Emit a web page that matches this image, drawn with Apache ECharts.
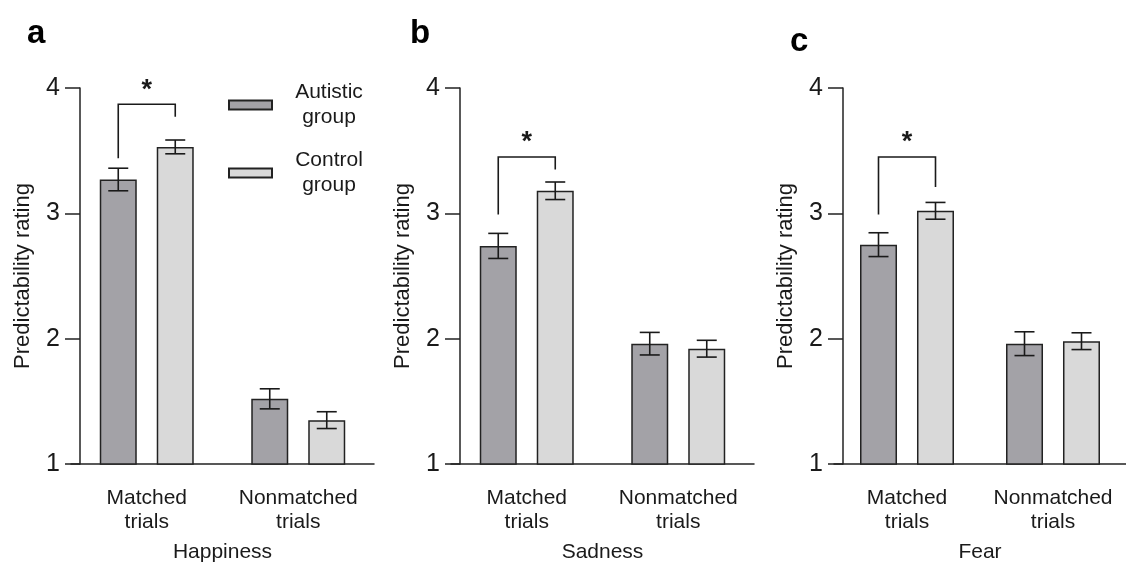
<!DOCTYPE html>
<html>
<head>
<meta charset="utf-8">
<script src="https://cdn.jsdelivr.net/npm/echarts@6/dist/echarts.min.js"></script>
<style>html,body{margin:0;padding:0;background:#fff}#c{width:1126px;height:568px}</style>
</head>
<body>
<div id="c"></div>
<script>
// ---- data ----
const categories = ['Matched\ntrials', 'Nonmatched\ntrials'];
const panelNames = ['Happiness', 'Sadness', 'Fear'];
const panelLetters = ['a', 'b', 'c'];
const seriesNames = ['Autistic group', 'Control group'];
const yTicks = [1, 2, 3, 4];

const happinessAutistic = [3.27, 1.52];
const happinessAutisticErr = [0.09, 0.08];
const happinessControl = [3.53, 1.35];
const happinessControlErr = [0.055, 0.067];

const sadnessAutistic = [2.74, 1.96];
const sadnessAutisticErr = [0.10, 0.09];
const sadnessControl = [3.18, 1.92];
const sadnessControlErr = [0.07, 0.067];

const fearAutistic = [2.75, 1.96];
const fearAutisticErr = [0.095, 0.095];
const fearControl = [3.02, 1.98];
const fearControlErr = [0.067, 0.067];

// significance brackets over "Matched trials" (value units)
const bracketTop = [3.87, 3.45, 3.45];
const bracketLeftEnd = [3.44, 2.99, 2.99];
const bracketRightEnd = [3.77, 3.35, 3.21];

// ---- layout / style ----
const autisticData = [happinessAutistic, sadnessAutistic, fearAutistic];
const autisticErr = [happinessAutisticErr, sadnessAutisticErr, fearAutisticErr];
const controlData = [happinessControl, sadnessControl, fearControl];
const controlErr = [happinessControlErr, sadnessControlErr, fearControlErr];

const FONT = '"Liberation Sans", Arial, sans-serif';
const TXT = '#1a1a1a';
const axisStarts = [80, 460, 843];
const SHIFT = 9;
const BAR_W = 37;
const HALF = 28.5;
const colors = ['#a3a2a7', '#d9d9d9'];
const letterPos = [[22, 12], [405, 12], [785, 20]];

const grids = [], xAxes = [], yAxes = [], series = [], titles = [];
for (let p = 0; p < 3; p++) {
  grids.push({left: axisStarts[p] - SHIFT, top: 88, width: 303, height: 379});
  titles.push({text: panelLetters[p], left: letterPos[p][0], top: letterPos[p][1],
    textStyle: {fontFamily: FONT, fontSize: 33, fontWeight: 'bold', color: '#000'}});
  xAxes.push({
    type: 'category', gridIndex: p, data: categories,
    axisLine: {lineStyle: {color: '#222', width: 1.5}},
    axisTick: {show: false},
    axisLabel: {fontFamily: FONT, fontSize: 21, color: TXT, lineHeight: 24, margin: 22, interval: 0},
    name: panelNames[p], nameLocation: 'middle', nameGap: 78,
    nameTextStyle: {fontFamily: FONT, fontSize: 21, color: TXT}
  });
  yAxes.push({
    type: 'value', gridIndex: p, min: 1, max: 4, interval: 1, offset: -SHIFT,
    splitLine: {show: false},
    axisLine: {show: true, lineStyle: {color: '#222', width: 1.5}},
    axisTick: {show: true, length: 15, lineStyle: {color: '#222', width: 1.5}},
    axisLabel: {fontFamily: FONT, fontSize: 25, color: TXT, margin: 20,
      formatter: v => yTicks.includes(v) ? String(v) : ''},
    name: 'Predictability rating', nameLocation: 'middle', nameGap: 46,
    nameTextStyle: {fontFamily: FONT, fontSize: 22, color: TXT}
  });
  const groups = [autisticData[p], controlData[p]];
  const errs = [autisticErr[p], controlErr[p]];
  for (let s = 0; s < 2; s++) {
    series.push({
      name: seriesNames[s], type: 'bar', xAxisIndex: p, yAxisIndex: p,
      data: groups[s], barWidth: BAR_W, barGap: '54%',
      itemStyle: {color: colors[s], borderColor: '#222', borderWidth: 1.5},
      emphasis: {disabled: true}, z: 2
    });
  }
  const errData = [];
  for (let s = 0; s < 2; s++) for (let c = 0; c < 2; c++)
    errData.push([c, groups[s][c], errs[s][c], s === 0 ? -1 : 1]);
  series.push({
    type: 'custom', xAxisIndex: p, yAxisIndex: p, data: errData, z: 5,
    encode: {x: 0, y: 1}, silent: true,
    renderItem: function (params, api) {
      const c = api.value(0), m = api.value(1), e = api.value(2), side = api.value(3);
      const t = api.coord([c, m + e]), b = api.coord([c, m - e]);
      const x = t[0] + side * HALF;
      const st = {stroke: '#1a1a1a', lineWidth: 1.6};
      return {type: 'group', children: [
        {type: 'line', shape: {x1: x, y1: t[1], x2: x, y2: b[1]}, style: st},
        {type: 'line', shape: {x1: x - 10, y1: t[1], x2: x + 10, y2: t[1]}, style: st},
        {type: 'line', shape: {x1: x - 10, y1: b[1], x2: x + 10, y2: b[1]}, style: st}
      ]};
    }
  });
  series.push({
    type: 'custom', xAxisIndex: p, yAxisIndex: p, z: 5, silent: true,
    data: [[0, bracketTop[p], bracketLeftEnd[p], bracketRightEnd[p]]],
    encode: {x: 0, y: 1},
    renderItem: function (params, api) {
      const c = api.value(0);
      const top = api.coord([c, api.value(1)]);
      const l = api.coord([c, api.value(2)]);
      const r = api.coord([c, api.value(3)]);
      const xl = top[0] - HALF, xr = top[0] + HALF;
      return {type: 'group', children: [
        {type: 'polyline', shape: {points: [[xl, l[1]], [xl, top[1]], [xr, top[1]], [xr, r[1]]]},
          style: {stroke: '#1a1a1a', lineWidth: 1.6, fill: null}},
        {type: 'text', x: top[0], y: top[1] - 14,
          style: {text: '*', fontFamily: FONT, fontSize: 27, fontWeight: 'bold', fill: '#1a1a1a',
            align: 'center', verticalAlign: 'middle'}}
      ]};
    }
  });
}

const chart = echarts.init(document.getElementById('c'), null, {renderer: 'canvas'});
chart.setOption({
  backgroundColor: '#fff',
  animation: false,
  title: titles,
  grid: grids, xAxis: xAxes, yAxis: yAxes,
  legend: {
    data: seriesNames, orient: 'vertical', left: 228, top: 82, itemGap: 22, padding: 0,
    itemWidth: 43, itemHeight: 9, icon: 'rect', selectedMode: false,
    formatter: n => n.split(' ').map(w => '{t|' + w + '}').join('\n'),
    textStyle: {fontFamily: FONT, fontSize: 21, color: TXT,
      rich: {t: {fontFamily: FONT, fontSize: 21, color: TXT, width: 104, align: 'center', lineHeight: 25}}}
  },
  series: series
});
</script>
</body>
</html>
